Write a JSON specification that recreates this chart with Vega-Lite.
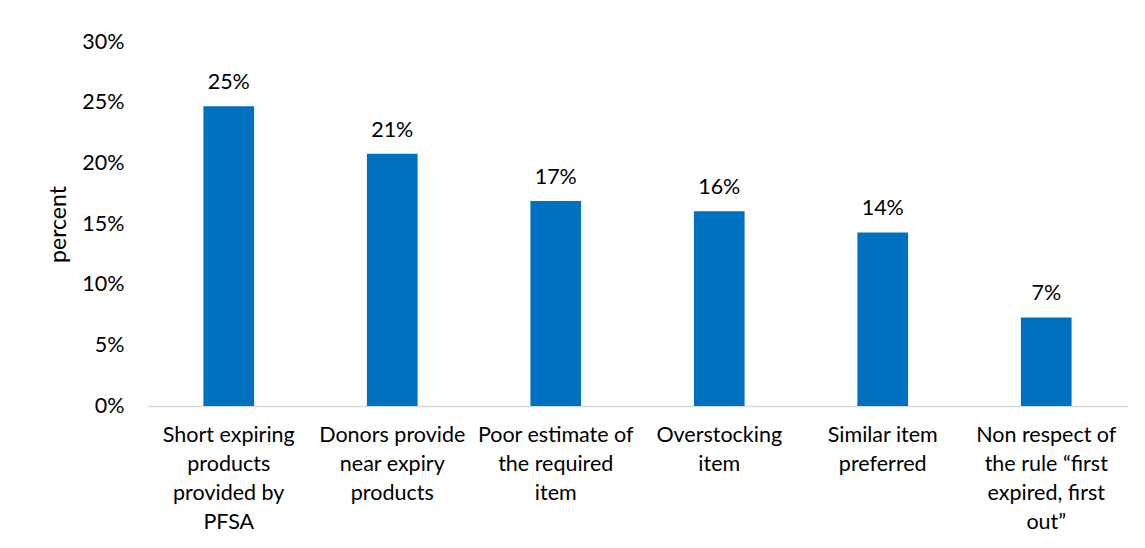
{
  "$schema": "https://vega.github.io/schema/vega-lite/v6.json",
  "width": 981,
  "height": 364,
  "autosize": {"type": "none"},
  "padding": {"left": 147, "top": 42, "right": 17, "bottom": 142},
  "background": "white",
  "config": {
    "view": {"stroke": null},
    "font": "Lato",
    "text": {"font": "Lato"}
  },
  "data": {
    "values": [
      {"cause": "Short expiring|products|provided by|PFSA", "value": 0.247, "label": "25%"},
      {"cause": "Donors provide|near expiry|products", "value": 0.208, "label": "21%"},
      {"cause": "Poor estimate of|the required|item", "value": 0.169, "label": "17%"},
      {"cause": "Overstocking|item", "value": 0.1605, "label": "16%"},
      {"cause": "Similar item|preferred", "value": 0.143, "label": "14%"},
      {"cause": "Non respect of|the rule “first|expired, first|out”", "value": 0.073, "label": "7%"}
    ]
  },
  "encoding": {
    "x": {
      "field": "cause",
      "type": "nominal",
      "sort": null,
      "scale": {"paddingInner": 0.69, "paddingOuter": 0.345},
      "axis": {
        "title": null,
        "labelAngle": 0,
        "labelExpr": "split(datum.label, '|')",
        "labelFont": "Lato",
        "labelFontSize": 21.5,
        "labelColor": "#000000",
        "labelBaseline": "top",
        "labelPadding": 18,
        "labelLineHeight": 29,
        "labelLimit": 0,
        "ticks": false,
        "domainColor": "#d9d9d9",
        "domainWidth": 1.5
      }
    },
    "y": {
      "field": "value",
      "type": "quantitative",
      "scale": {"domain": [0, 0.3]},
      "axis": {
        "title": "percent",
        "titleFont": "Lato",
        "titleFontSize": 23,
        "titleFontWeight": "normal",
        "titleColor": "#000000",
        "titlePadding": 11,
        "format": ".0%",
        "values": [0, 0.05, 0.1, 0.15, 0.2, 0.25, 0.3],
        "labelFont": "Lato",
        "labelFontSize": 21.5,
        "labelColor": "#000000",
        "labelPadding": 23,
        "ticks": false,
        "domain": false,
        "grid": false
      }
    }
  },
  "layer": [
    {"mark": {"type": "bar", "color": "#0070C0"}},
    {
      "mark": {"type": "text", "baseline": "alphabetic", "dy": -17, "fontSize": 21.5, "color": "#000000", "font": "Lato"},
      "encoding": {"text": {"field": "label"}}
    }
  ]
}
